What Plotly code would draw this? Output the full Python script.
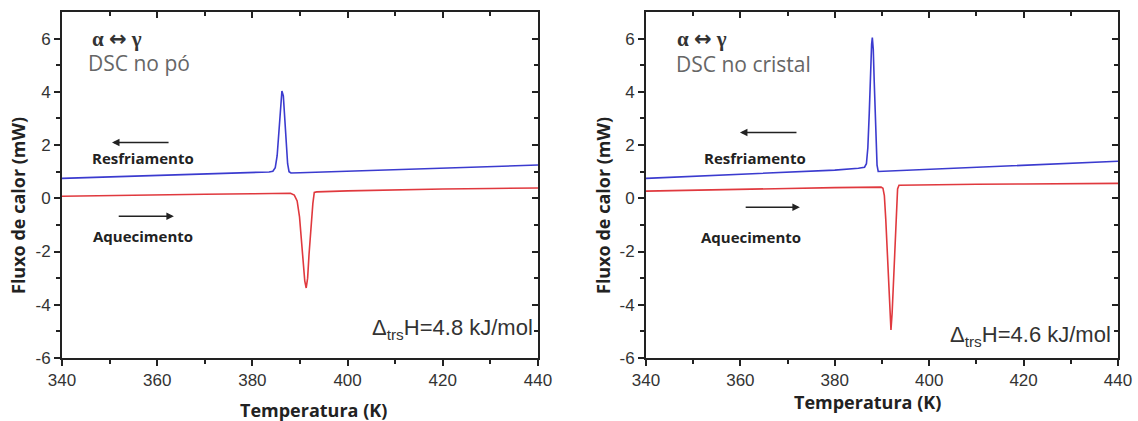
import plotly.graph_objects as go

# ---------------- data ----------------
x_ticks = [340, 360, 380, 400, 420, 440]
x_minor = [350, 370, 390, 410, 430]
y_ticks = [-6, -4, -2, 0, 2, 4, 6]
y_minor = [-5, -3, -1, 1, 3, 5]
x_tick_text = [str(v) for v in x_ticks]
y_tick_text = [str(v) for v in y_ticks]

# Left panel: DSC no pó
T_po_resf = [340, 350, 360, 370, 380, 383.5, 384.3, 384.8, 385.2, 385.6, 385.9, 386.2,
             386.5, 386.8, 387.1, 387.4, 387.7, 388.1, 390, 400, 410, 420, 430, 440]
Q_po_resf = [0.75, 0.80, 0.85, 0.90, 0.96, 0.99, 1.02, 1.15, 1.6, 2.6, 3.5, 4.03,
             3.85, 3.1, 2.1, 1.3, 1.0, 0.95, 0.96, 1.02, 1.08, 1.14, 1.19, 1.25]
T_po_aq = [340, 350, 360, 370, 380, 388.0, 388.8, 389.4, 389.9, 390.3, 390.7, 391.0,
           391.3, 391.6, 391.9, 392.3, 392.7, 393.0, 393.5, 400, 410, 420, 430, 440]
Q_po_aq = [0.08, 0.11, 0.13, 0.15, 0.17, 0.19, 0.12, -0.1, -0.7, -1.6, -2.5, -3.1,
           -3.37, -3.0, -2.1, -1.1, -0.2, 0.22, 0.24, 0.28, 0.32, 0.35, 0.37, 0.39]

# Right panel: DSC no cristal
T_cr_resf = [340, 350, 360, 370, 380, 385, 386.3, 386.7, 387.0, 387.3, 387.55, 387.8,
             387.95, 388.15, 388.35, 388.55, 388.75, 388.95, 389.2, 392, 400, 410, 420, 430, 440]
Q_cr_resf = [0.75, 0.83, 0.90, 0.97, 1.06, 1.13, 1.17, 1.3, 1.9, 3.2, 4.7, 5.8,
             6.04, 5.6, 4.4, 3.0, 1.9, 1.25, 1.01, 1.03, 1.10, 1.17, 1.25, 1.32, 1.39]
T_cr_aq = [340, 350, 360, 370, 380, 389.8, 390.2, 390.5, 390.8, 391.1, 391.4, 391.65,
           391.9, 392.15, 392.45, 392.75, 393.05, 393.3, 393.6, 400, 410, 420, 430, 440]
Q_cr_aq = [0.27, 0.31, 0.34, 0.37, 0.40, 0.42, 0.38, 0.1, -0.8, -2.1, -3.4, -4.4,
           -4.95, -4.3, -3.0, -1.6, -0.4, 0.35, 0.49, 0.51, 0.53, 0.54, 0.55, 0.56]

BLUE = "#3b3bcf"
RED = "#e0393e"

# ---------------- figure ----------------
W, H = 1138, 421
def px(x):
    return x / W
def py(y):
    return 1 - y / H

fig = go.Figure()
line_w = 1.6
fig.add_trace(go.Scatter(x=T_po_resf, y=Q_po_resf, mode="lines", line=dict(color=BLUE, width=line_w), xaxis="x", yaxis="y", showlegend=False))
fig.add_trace(go.Scatter(x=T_po_aq, y=Q_po_aq, mode="lines", line=dict(color=RED, width=line_w), xaxis="x", yaxis="y", showlegend=False))
fig.add_trace(go.Scatter(x=T_cr_resf, y=Q_cr_resf, mode="lines", line=dict(color=BLUE, width=line_w), xaxis="x2", yaxis="y2", showlegend=False))
fig.add_trace(go.Scatter(x=T_cr_aq, y=Q_cr_aq, mode="lines", line=dict(color=RED, width=line_w), xaxis="x2", yaxis="y2", showlegend=False))
# empty traces for mirrored (top / right) axes with inside ticks
fig.add_trace(go.Scatter(x=[], y=[], xaxis="x3", yaxis="y3", showlegend=False))
fig.add_trace(go.Scatter(x=[], y=[], xaxis="x4", yaxis="y4", showlegend=False))

AX = "#222222"
tickfont = dict(family="Liberation Sans, Arial, sans-serif", size=17, color="#333333")

def xaxis(domain, anchor, side="bottom", overlaying=None):
    inside = side == "top"
    d = dict(domain=domain, anchor=anchor, range=[340, 440], side=side,
             tickmode="array", tickvals=x_ticks, ticktext=x_tick_text,
             ticks="inside" if inside else "outside", ticklen=6, tickwidth=1.6, tickcolor=AX,
             showticklabels=not inside, tickfont=tickfont,
             minor=dict(tickmode="array", tickvals=x_minor, ticks="inside" if inside else "outside",
                        ticklen=4, tickwidth=1.6, tickcolor=AX),
             showline=True, linecolor=AX, linewidth=1.8, automargin=False,
             showgrid=False, zeroline=False, fixedrange=True)
    if overlaying:
        d["overlaying"] = overlaying
    return d

def yaxis(domain, anchor, side="left", overlaying=None):
    inside = side == "right"
    d = dict(domain=domain, anchor=anchor, range=[-6, 7], side=side,
             tickmode="array", tickvals=y_ticks, ticktext=y_tick_text,
             ticks="inside" if inside else "outside", ticklen=6, tickwidth=1.6, tickcolor=AX,
             showticklabels=not inside, tickfont=tickfont,
             minor=dict(tickmode="array", tickvals=y_minor, ticks="inside" if inside else "outside",
                        ticklen=4, tickwidth=1.6, tickcolor=AX),
             showline=True, linecolor=AX, linewidth=1.8, automargin=False,
             showgrid=False, zeroline=False, fixedrange=True)
    if overlaying:
        d["overlaying"] = overlaying
    return d

xd1 = [px(62), px(538)]
xd2 = [px(646), px(1118)]
yd = [py(358), py(12)]

fig.update_layout(
    template="none",
    width=W, height=H,
    margin=dict(l=0, r=0, t=0, b=0, autoexpand=False),
    paper_bgcolor="white", plot_bgcolor="white",
    xaxis=xaxis(xd1, "y"),
    yaxis=yaxis(yd, "x"),
    xaxis2=xaxis(xd2, "y2"),
    yaxis2=yaxis(yd, "x2"),
    xaxis3=xaxis(xd1, "y", side="top", overlaying="x"),
    yaxis3=yaxis(yd, "x", side="right", overlaying="y"),
    xaxis4=xaxis(xd2, "y2", side="top", overlaying="x2"),
    yaxis4=yaxis(yd, "x2", side="right", overlaying="y2"),
)

ann = []
bold_font = dict(family="Open Sans, Noto Sans, sans-serif", size=15, color="#222222")
title_font = dict(family="Open Sans, Noto Sans, sans-serif", size=18, color="#222222")
alpha_font = dict(family="Liberation Serif, DejaVu Serif, serif", size=21, color="#333333")
dsc_font = dict(family="Open Sans, Noto Sans, sans-serif", size=21, color="#666666")
dh_font = dict(family="Liberation Sans, Arial, sans-serif", size=22, color="#333333")

ALPHA_GAMMA = "<b>α <span style='font-family:DejaVu Sans'>↔</span> γ</b>"

def txt(text, x, y, font, xanchor="center", angle=0):
    ann.append(dict(text=text, x=px(x), y=py(y), xref="paper", yref="paper",
                    xanchor=xanchor, yanchor="middle", showarrow=False, font=font,
                    textangle=angle))

# left panel texts
txt(ALPHA_GAMMA, 90, 39, alpha_font, "left")
txt("DSC no pó", 86, 63, dsc_font, "left")
txt("<b>Resfriamento</b>", 143, 158, bold_font)
txt("<b>Aquecimento</b>", 143, 236, bold_font)
txt("Δ<sub>trs</sub>H=4.8 kJ/mol", 535, 329, dh_font, "right")
txt("<b>Temperatura (K)</b>", 313, 410, title_font)
txt("<b>Fluxo de calor (mW)</b>", 18, 206, title_font, angle=-90)

# right panel texts
txt(ALPHA_GAMMA, 675, 39, alpha_font, "left")
txt("DSC no cristal", 674, 64, dsc_font, "left")
txt("<b>Resfriamento</b>", 755, 158, bold_font)
txt("<b>Aquecimento</b>", 751, 237, bold_font)
txt("Δ<sub>trs</sub>H=4.6 kJ/mol", 1113, 336, dh_font, "right")
txt("<b>Temperatura (K)</b>", 867, 402, title_font)
txt("<b>Fluxo de calor (mW)</b>", 603, 206, title_font, angle=-90)

# direction arrows (data coordinates)
def arrow(xr, yr, tail_x, tip_x, yv):
    ann.append(dict(x=tip_x, y=yv, ax=tail_x, ay=yv, xref=xr, yref=yr, axref=xr, ayref=yr,
                    showarrow=True, arrowhead=2, arrowsize=1, arrowwidth=1.5,
                    arrowcolor="#222222", text=""))

arrow("x", "y", 362.7, 350.5, 2.1)
arrow("x", "y", 351.6, 363.5, -0.67)
arrow("x2", "y2", 372.2, 359.9, 2.47)
arrow("x2", "y2", 360.8, 372.6, -0.34)

fig.update_layout(annotations=ann)
fig.write_html("out.html")
